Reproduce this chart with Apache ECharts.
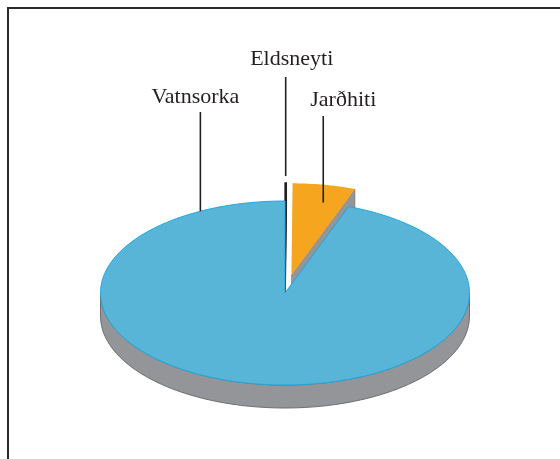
<!DOCTYPE html>
<html>
<head>
<meta charset="utf-8">
<script src="https://cdn.jsdelivr.net/npm/echarts@6/dist/echarts.min.js"></script>
<style>html,body{margin:0;padding:0;background:#fff}#c{width:560px;height:459px}</style>
</head>
<body>
<div id="c"></div>
<script>
// ---- data ----
const categories = ['Eldsneyti', 'Jarðhiti', 'Vatnsorka'];
const values = [0.1, 5.5, 94.4];
const colors = ['#231f20', '#f6a51f', '#58b5d7'];
const explodedFlags = [true, true, false];

// ---- layout / style ----
const CX = 285, CY = 293, RX = 184.5, RY = 92, DEPTH = 23, EXPLODE = 36;
const SIDE = '#939598', SIDE_EDGE = '#6d6e71', TOP_EDGE = '#1ea7e1';
const labelLayout = [
  { angle: 0.18, r: 1.0, gap: 7, lineTop: 77, textDx: 6, textY: 59 },
  { angle: 12.3, r: 0.81, gap: 0, lineTop: 116, textDx: 20, textY: 100 },
  { angle: 332.7, r: 1.0, gap: 0, lineTop: 112, textDx: -5, textY: 97 }
];

const total = values.reduce((a, b) => a + b, 0);
const starts = [];
values.reduce((acc, v, i) => { starts[i] = acc; return acc + v; }, 0);

function pt(theta, r, ox, oy, dy) {
  return [CX + RX * r * Math.sin(theta) + ox, CY - RY * r * Math.cos(theta) + oy + (dy || 0)];
}
function arc(a0, a1, ox, oy, dy) {
  const n = Math.max(2, Math.ceil((a1 - a0) / (Math.PI / 180)));
  const out = [];
  for (let k = 0; k <= n; k++) out.push(pt(a0 + (a1 - a0) * k / n, 1, ox, oy, dy));
  return out;
}

function renderItem(params, api) {
  const i = params.dataIndex;
  const v = api.value(0);
  const a0 = starts[i] / total * Math.PI * 2;
  const a1 = (starts[i] + v) / total * Math.PI * 2;
  const mid = (a0 + a1) / 2;
  const e = explodedFlags[i] ? EXPLODE : 0;
  const ox = e * Math.sin(mid);
  const oy = -e * Math.cos(mid) * RY / RX;
  const color = colors[i];
  const isDark = i === 0;
  const children = [];
  const c0 = [CX + ox, CY + oy];
  const c1 = [CX + ox, CY + oy + DEPTH];

  // outer wall (front half only)
  const lo = Math.max(a0, Math.PI / 2), hi = Math.min(a1, Math.PI * 1.5);
  if (lo < hi) {
    const topArc = arc(lo, hi, ox, oy, 0);
    const botArc = arc(lo, hi, ox, oy, DEPTH).reverse();
    children.push({ type: 'polygon', z2: 2, shape: { points: topArc.concat(botArc) },
      style: { fill: SIDE, stroke: SIDE_EDGE, lineWidth: 1 } });
  }
  // cut faces
  if (Math.sin(a1) > 0.001 && e > 0) {
    const p = pt(a1, 1, ox, oy, 0), q = pt(a1, 1, ox, oy, DEPTH);
    children.push({ type: 'polygon', z2: 3, shape: { points: [c0, p, q, c1] },
      style: { fill: isDark ? color : SIDE, stroke: isDark ? color : SIDE_EDGE, lineWidth: isDark ? 1.5 : 0.5 } });
  }
  if (Math.sin(a0) < -0.001 && e > 0) {
    const p = pt(a0, 1, ox, oy, 0), q = pt(a0, 1, ox, oy, DEPTH);
    children.push({ type: 'polygon', z2: 3, shape: { points: [c0, p, q, c1] },
      style: { fill: SIDE, stroke: SIDE_EDGE, lineWidth: 0.5 } });
  }
  // top face
  const topPts = [c0].concat(arc(a0, a1, ox, oy, 0));
  children.push({ type: 'polygon', z2: 10, shape: { points: topPts },
    style: { fill: color, stroke: i === 2 ? TOP_EDGE : color, lineWidth: isDark ? 1.5 : (i === 2 ? 1 : 0) } });

  // label + leader line
  const L = labelLayout[i];
  const anc = pt(L.angle * Math.PI / 180, L.r, ox, oy, 0);
  children.push({ type: 'line', z2: 20, shape: { x1: anc[0], y1: anc[1] - L.gap, x2: anc[0], y2: L.lineTop },
    style: { stroke: '#231f20', lineWidth: 1.6 } });
  children.push({ type: 'text', z2: 20, x: anc[0] + L.textDx, y: L.textY,
    style: { text: categories[i], fill: '#231f20', font: '22px "Liberation Serif", "Times New Roman", serif',
      align: 'center', verticalAlign: 'middle' } });

  return { type: 'group', children: children };
}

const chart = echarts.init(document.getElementById('c'), null, { renderer: 'canvas' });
chart.setOption({
  animation: false,
  backgroundColor: '#ffffff',
  graphic: [{ type: 'rect', z: 100, shape: { x: 8, y: 8, width: 620, height: 620 },
    style: { fill: 'none', stroke: '#2b2b2b', lineWidth: 2 } }],
  series: [{
    type: 'custom',
    coordinateSystem: 'none',
    renderItem: renderItem,
    clip: false,
    data: values.map((v, i) => ({ name: categories[i], value: [v] }))
  }]
});
</script>
</body>
</html>
